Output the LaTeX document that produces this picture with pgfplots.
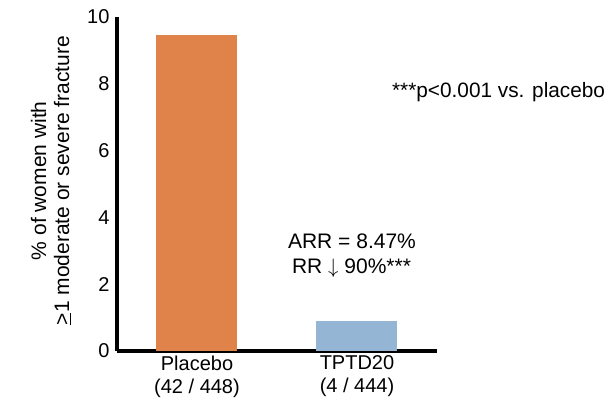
\documentclass[border=0pt]{standalone}
\usepackage{pgfplots}
\pgfplotsset{compat=1.18}
\usepackage{fontspec}
\setmainfont{Liberation Sans}
\definecolor{barorange}{RGB}{224,131,74}
\definecolor{barblue}{RGB}{148,182,212}
\begin{document}
\begin{tikzpicture}
\useasboundingbox (0,0) rectangle (614pt,406pt);
\begin{axis}[
  at={(117pt,55pt)}, anchor=south west,
  scale only axis, width=320pt, height=334pt,
  xmin=-0.5, xmax=1.5, ymin=0, ymax=10,
  axis lines*=left,
  axis line style={line width=4pt, black, -},
  ytick={0,2,4,6,8,10},
  xtick={0,1},
  xticklabels={{Placebo\\(42 / 448)},{TPTD20\\(4 / 444)}},
  xticklabel style={align=center, font=\fontsize{20}{23}\selectfont, yshift=-1pt},
  yticklabel style={font=\fontsize{20}{23}\selectfont, xshift=-4pt},
  /pgf/number format/assume math mode=true,
  major tick length=0pt,
  ylabel={\% of women with\\\underline{>}1 moderate or severe fracture},
  ylabel style={align=center, font=\fontsize{21}{23}\selectfont, at={(axis description cs:-0.206,0.51)}, anchor=center},
  clip=false,
  ybar, bar width=81pt,
]
\addplot[fill=barorange, draw=none, bar shift=0pt] coordinates {(0,9.45)};
\addplot[fill=barblue, draw=none, bar shift=0pt] coordinates {(1,0.9)};
\node[font=\fontsize{21}{24.5}\selectfont, align=left, inner sep=0pt, anchor=west] at (axis cs:0.568,2.86) {ARR = 8.47\%\\\hspace*{4pt}RR $\downarrow$ 90\%***};
\node[font=\fontsize{20.8}{24}\selectfont] at (axis cs:1.885,7.74) {***p<0.001 vs. placebo};
\end{axis}
\end{tikzpicture}
\end{document}
